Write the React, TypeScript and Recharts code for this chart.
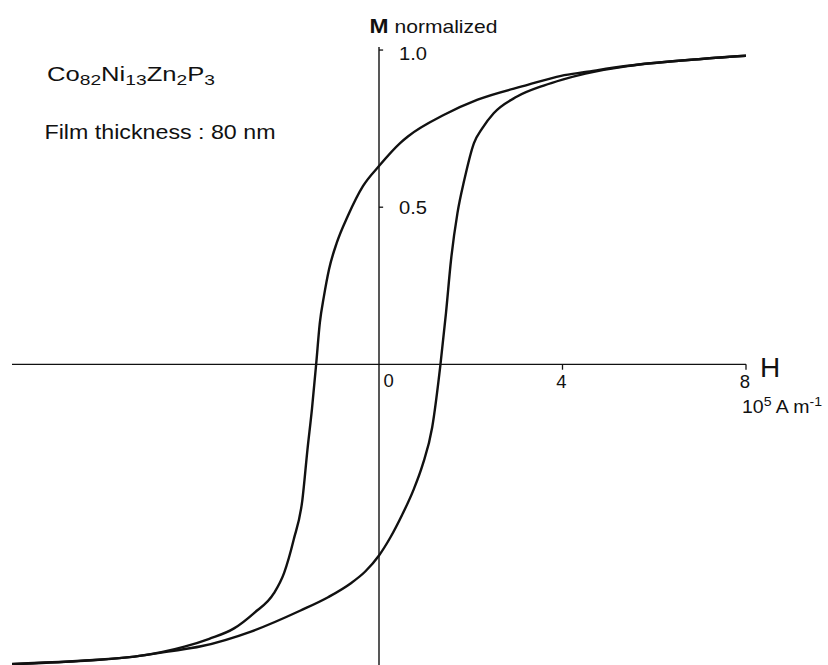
import React from "react"
import { LineChart, Line, XAxis, YAxis, ReferenceLine, ReferenceDot } from "recharts"

// Field H in 10^5 A/m, magnetisation normalised to saturation

// branch coming down from positive saturation (listed by increasing H)
const downH = [-8, -7.65, -6.42, -5.33, -4.24, -3.7, -3.16, -2.73, -2.29, -2.07, -1.86, -1.67, -1.56, -1.46, -1.37, -1.29, -1.2, -1.09, -0.92, -0.68, -0.35, 0, 0.46, 0.63, 1.42, 2.15, 3.24, 3.97, 4.5, 5.42, 6.87, 8]
const downM = [-0.953, -0.951, -0.942, -0.93, -0.898, -0.873, -0.84, -0.792, -0.728, -0.664, -0.558, -0.431, -0.272, -0.14, 0, 0.132, 0.217, 0.302, 0.387, 0.472, 0.567, 0.631, 0.704, 0.725, 0.794, 0.842, 0.889, 0.918, 0.93, 0.95, 0.97, 0.982]

// branch going up from negative saturation
const upH = [-8, -6.42, -5.33, -4.6, -3.88, -2.79, -1.71, -1.1, -0.62, -0.3, 0, 0.25, 0.5, 0.75, 0.95, 1.16, 1.34, 1.46, 1.57, 1.71, 1.86, 2.07, 2.25, 2.5, 3.01, 3.59, 4.0, 4.5, 5.42, 6.87, 8]
const upM = [-0.954, -0.943, -0.93, -0.914, -0.897, -0.85, -0.783, -0.74, -0.697, -0.659, -0.608, -0.55, -0.48, -0.4, -0.32, -0.2, 0, 0.163, 0.332, 0.481, 0.587, 0.704, 0.751, 0.799, 0.852, 0.887, 0.906, 0.925, 0.949, 0.97, 0.982]

const hTicks = [4, 8]
const mTicks = [0.5, 1.0]
const mTickLabels = ["0.5", "1.0"]

const downData = downH.map((h, i) => ({ h, m: downM[i] }))
const upData = upH.map((h, i) => ({ h, m: upM[i] }))

const FONT = '"Liberation Sans", Arial, Helvetica, sans-serif'
const INK = "#111"

// draws a piece of text offset from a reference point
function textShape(content: React.ReactNode, dx: number, dy: number, opts: any = {}) {
  return (p: any) => (
    <text
      x={p.cx + dx}
      y={p.cy + dy}
      fill={INK}
      fontFamily={FONT}
      fontSize={opts.size ?? 18.5}
      fontWeight={opts.weight ?? 400}
      textAnchor={opts.anchor ?? "start"}
      textLength={opts.length}
      lengthAdjust={opts.length ? "spacingAndGlyphs" : undefined}
    >
      {content}
    </text>
  )
}

export default function App() {
  return (
    <div style={{ position: "absolute", left: 0, top: 0, width: 828, height: 665, overflow: "hidden", background: "#fff" }}>
      <LineChart width={828} height={680} margin={{ top: 46.9, right: 82, bottom: 13.9, left: 12 }}>
        <XAxis type="number" dataKey="h" domain={[-8, 8]} hide allowDataOverflow />
        <YAxis type="number" domain={[-0.96, 1.01]} hide allowDataOverflow />

        <ReferenceLine y={0} stroke={INK} strokeWidth={1.4} />
        <ReferenceLine x={0} stroke={INK} strokeWidth={1.4} />
        {hTicks.map((t) => (
          <ReferenceLine key={"ht" + t} segment={[{ x: t, y: 0 }, { x: t, y: -0.017 }]} stroke={INK} strokeWidth={1.3} />
        ))}
        {mTicks.map((t) => (
          <ReferenceLine key={"mt" + t} segment={[{ x: 0, y: t }, { x: 0.09, y: t }]} stroke={INK} strokeWidth={1.3} />
        ))}

        <Line data={upData} dataKey="m" type="monotone" stroke={INK} strokeWidth={2.4} dot={false} isAnimationActive={false} />
        <Line data={downData} dataKey="m" type="monotone" stroke={INK} strokeWidth={2.4} dot={false} isAnimationActive={false} />

        {/* tick labels */}
        <ReferenceDot x={0} y={0} r={0} shape={textShape("0", 4.5, 23)} />
        {hTicks.map((t) => (
          <ReferenceDot key={"hl" + t} x={t} y={0} r={0} shape={textShape(String(t), -1, 23.5, { anchor: "middle" })} />
        ))}
        {mTicks.map((t, i) => (
          <ReferenceDot key={"ml" + t} x={0} y={t} r={0} shape={textShape(mTickLabels[i], 20, t === 1 ? 10 : 7, { length: 28 })} />
        ))}

        {/* axis titles */}
        <ReferenceDot x={0} y={1} r={0} shape={textShape("M", -9.5, -17, { size: 21, weight: 700, length: 19 })} />
        <ReferenceDot x={0} y={1} r={0} shape={textShape("normalized", 15.5, -17, { length: 103 })} />
        <ReferenceDot x={8} y={0} r={0} shape={textShape("H", 14, 12.5, { size: 28 })} />
        <ReferenceDot
          x={8}
          y={0}
          r={0}
          shape={textShape(
            <>
              10<tspan dy={-7} fontSize={13}>5</tspan>
              <tspan dy={7}> A m</tspan>
              <tspan dy={-7} fontSize={13}>-1</tspan>
            </>,
            -4,
            49,
            { size: 18, length: 80 }
          )}
        />
      </LineChart>

      <svg width={828} height={665} style={{ position: "absolute", left: 0, top: 0, pointerEvents: "none" }}>
        <text x={47} y={81.3} fill={INK} fontFamily={FONT} fontSize={20} textLength={168} lengthAdjust="spacingAndGlyphs">
          Co<tspan dy={3.5} fontSize={15}>82</tspan>
          <tspan dy={-3.5}>Ni</tspan>
          <tspan dy={3.5} fontSize={15}>13</tspan>
          <tspan dy={-3.5}>Zn</tspan>
          <tspan dy={3.5} fontSize={15}>2</tspan>
          <tspan dy={-3.5}>P</tspan>
          <tspan dy={3.5} fontSize={15}>3</tspan>
        </text>
        <text x={44.5} y={138.7} fill={INK} fontFamily={FONT} fontSize={20.5} textLength={231} lengthAdjust="spacingAndGlyphs">
          Film thickness : 80 nm
        </text>
      </svg>
    </div>
  )
}
